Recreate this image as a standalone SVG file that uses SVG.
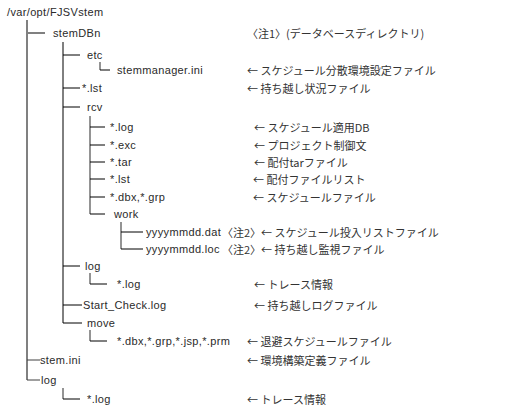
<svg xmlns="http://www.w3.org/2000/svg" width="518" height="406" viewBox="0 0 518 406">
<style>
text{font-family:"Liberation Sans","Noto Sans CJK JP",sans-serif;font-size:11px;fill:#2a2a2a;dominant-baseline:central;letter-spacing:0.35px}
.d{font-family:"Noto Sans CJK JP",sans-serif;fill:#333;letter-spacing:0}
.g{stroke:#808080;stroke-width:2;fill:none}
.k{stroke:#000;stroke-width:1;fill:none}
.m{stroke:#707070;stroke-width:1.5;fill:none}
.h{stroke:#404040;stroke-width:1;fill:none}
</style>
<rect width="518" height="406" fill="#fff"/>
<g id="connectors">
<path class="g" d="M27,20V380M27,33H45"/>
<path class="k" d="M63,42V323M63,55H80M63,88H80M63,107H80M63,266H80M63,305H82M63,323H82"/>
<path class="m" d="M100,62V70"/><path class="k" d="M100,70H110"/>
<path class="m" d="M90,116V214"/>
<path class="k" d="M90,127H105M90,145H105M90,162H105M90,179H105M90,197H105M90,214H105"/>
<path class="m" d="M121,222V249"/><path class="k" d="M121,232H143M121,249H143"/>
<path class="m" d="M90,273V284"/><path class="k" d="M90,284H107"/>
<path class="m" d="M90,330V341"/><path class="k" d="M90,341H107"/>
<path class="h" d="M27,360H40M27,380H40"/>
<path class="m" d="M63,388V399"/><path class="k" d="M63,399H80"/>
</g>
<g id="root"><text x="7" y="12">/var/opt/FJSVstem</text></g>
<g id="stemDBn"><text x="53" y="33">stemDBn</text><text class="d" x="247" y="33">〈注1〉(データベースディレクトリ)</text></g>
<g id="etc"><text x="87" y="55">etc</text></g>
<g id="stemmanager"><text x="117" y="70">stemmanager.ini</text><text class="d" x="247" y="70">← スケジュール分散環境設定ファイル</text></g>
<g id="lst1"><text x="82" y="88">*.lst</text><text class="d" x="247" y="88">← 持ち越し状況ファイル</text></g>
<g id="rcv"><text x="87" y="107">rcv</text></g>
<g id="log1"><text x="110" y="127">*.log</text><text class="d" x="254" y="127">← スケジュール適用DB</text></g>
<g id="exc"><text x="110" y="145">*.exc</text><text class="d" x="254" y="145">← プロジェクト制御文</text></g>
<g id="tar"><text x="110" y="162">*.tar</text><text class="d" x="254" y="162">← 配付tarファイル</text></g>
<g id="lst2"><text x="110" y="179">*.lst</text><text class="d" x="253" y="179">← 配付ファイルリスト</text></g>
<g id="dbx"><text x="110" y="197">*.dbx,*.grp</text><text class="d" x="253" y="197">← スケジュールファイル</text></g>
<g id="work"><text x="114" y="214">work</text></g>
<g id="dat"><text x="146" y="232">yyyymmdd.dat</text><text class="d" x="222" y="232">〈注2〉← スケジュール投入リストファイル</text></g>
<g id="loc"><text x="146" y="249">yyyymmdd.loc</text><text class="d" x="222" y="249">〈注2〉← 持ち越し監視ファイル</text></g>
<g id="log2"><text x="85" y="266">log</text></g>
<g id="log3"><text x="117" y="284">*.log</text><text class="d" x="254" y="284">← トレース情報</text></g>
<g id="startcheck"><text x="83" y="305">Start_Check.log</text><text class="d" x="254" y="305">← 持ち越しログファイル</text></g>
<g id="move"><text x="87" y="323">move</text></g>
<g id="moved"><text x="117" y="341">*.dbx,*.grp,*.jsp,*.prm</text><text class="d" x="247" y="341">← 退避スケジュールファイル</text></g>
<g id="stemini"><text x="40" y="360">stem.ini</text><text class="d" x="247" y="360">← 環境構築定義ファイル</text></g>
<g id="log4"><text x="41" y="380">log</text></g>
<g id="log5"><text x="87" y="399">*.log</text><text class="d" x="247" y="399">← トレース情報</text></g>
</svg>
